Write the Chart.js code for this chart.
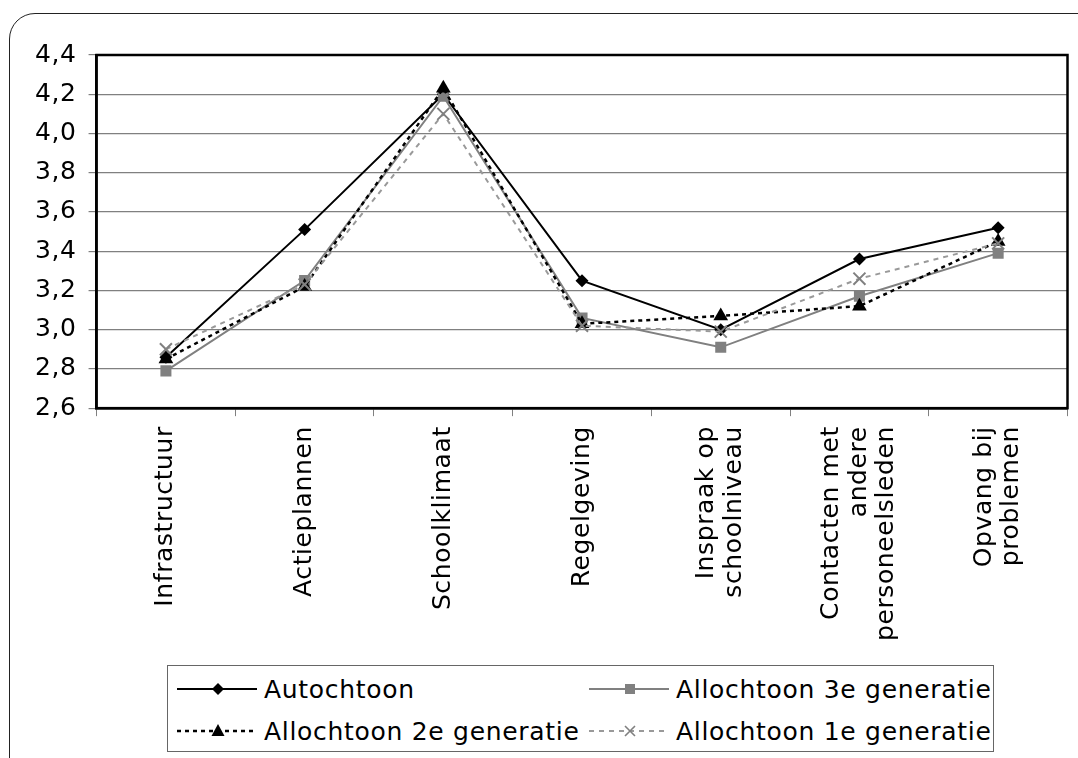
<!DOCTYPE html>
<html><head><meta charset="utf-8">
<script src="https://cdn.jsdelivr.net/npm/chart.js@4.4.1/dist/chart.umd.min.js"></script>
<style>
html,body{margin:0;padding:0;background:#fff;width:1078px;height:758px;overflow:hidden;}
#wrap{position:relative;width:1078px;height:758px;overflow:hidden;}
#frame{position:absolute;left:9px;top:13px;width:1110px;height:800px;border:1.6px solid #222;border-radius:26px;box-sizing:border-box;}
#c{position:absolute;left:0;top:0;}
#legend{position:absolute;left:167px;top:665px;width:827px;height:87px;border:1.5px solid #666;box-sizing:border-box;font-family:'DejaVu Sans';font-size:25px;letter-spacing:0.7px;color:#000;background:#fff}
.item{position:absolute;display:flex;align-items:center;height:30px;white-space:nowrap}
.item svg{margin-right:7px;flex:none}
</style></head>
<body>
<div id="wrap">
<div id="frame"></div>
<canvas id="c" width="1078" height="758"></canvas>
<div id="legend"></div>
</div>
<script>
const categories = ['Infrastructuur', 'Actieplannen', 'Schoolklimaat', 'Regelgeving',
  ['Inspraak op', 'schoolniveau'], ['Contacten met', 'andere', 'personeelsleden'], ['Opvang bij', 'problemen']];
const seriesNames = ['Autochtoon', 'Allochtoon 3e generatie', 'Allochtoon 2e generatie', 'Allochtoon 1e generatie'];
const autochtoon = [2.86, 3.51, 4.20, 3.25, 3.00, 3.36, 3.52];
const allochtoon3 = [2.79, 3.25, 4.19, 3.06, 2.91, 3.17, 3.39];
const allochtoon2 = [2.85, 3.22, 4.23, 3.03, 3.07, 3.12, 3.45];
const allochtoon1 = [2.90, 3.23, 4.10, 3.02, 2.99, 3.26, 3.44];
const yTickLabels = ['2,6', '2,8', '3,0', '3,2', '3,4', '3,6', '3,8', '4,0', '4,2', '4,4'];

Chart.defaults.font.family = 'DejaVu Sans';
Chart.defaults.font.size = 25;
Chart.defaults.color = '#000';

const styles = [
  {color:'#000', width:2, dash:[], marker:'rectRot', r:6.5, mcolor:'#000'},
  {color:'#808080', width:2, dash:[], marker:'rect', r:7.8, mcolor:'#808080'},
  {color:'#000', width:2.5, dash:[4,4], marker:'triangle', r:8.5, mcolor:'#000'},
  {color:'#999', width:2, dash:[5,5], marker:'crossRot', r:8.5, mcolor:'#808080'}
];
const values = [autochtoon, allochtoon3, allochtoon2, allochtoon1];

function ds(i, order){
  const s = styles[i];
  return {label: seriesNames[i], data: values[i], borderColor: s.color, borderWidth: s.width,
    borderDash: s.dash, pointStyle: s.marker, pointRadius: s.r, pointHoverRadius: s.r,
    pointBackgroundColor: s.mcolor, pointBorderColor: s.mcolor,
    pointBorderWidth: s.marker === 'crossRot' ? 2 : 0, tension: 0, fill: false, order: order};
}

const SPACING = '0.6px';
const framePlugin = {
  id: 'frameAndLabels',
  beforeUpdate(chart){ chart.ctx.letterSpacing = SPACING; },
  beforeLayout(chart){ chart.ctx.letterSpacing = SPACING; },
  beforeDraw(chart){
    chart.ctx.letterSpacing = SPACING;
    const sc = chart.scales.x;
    const items = sc.getLabelItems(chart.chartArea);
    if (!items._shifted) {
      items.forEach(it => {
        const n = Array.isArray(it.label) ? it.label.length : 1;
        it.options.translation[0] -= (n - 1) * it.font.lineHeight / 2;
      });
      items._shifted = true;
    }
  },
  beforeDatasetsDraw(chart){
    const {ctx, chartArea: a} = chart;
    ctx.save();
    ctx.strokeStyle = '#000'; ctx.lineWidth = 2.5;
    ctx.strokeRect(a.left, a.top, a.right - a.left, a.bottom - a.top);
    ctx.restore();
  }
};

new Chart(document.getElementById('c'), {
  type: 'line',
  data: { labels: categories, datasets: [ds(3,0), ds(2,1), ds(1,2), ds(0,3)] },
  options: {
    responsive: false, animation: false,
    layout: { padding: {top: 55, left: 23, right: 10, bottom: 107} },
    plugins: { legend: {display: false}, tooltip: {enabled: false} },
    scales: {
      x: {
        offset: true,
        grid: { display: true, drawOnChartArea: false, drawTicks: true, tickLength: 8, color: '#808080', offset: true },
        border: { display: true, color: '#000', width: 2.5 },
        ticks: { autoSkip: false, minRotation: 90, maxRotation: 90, padding: 10, font: {size: 25, lineHeight: 1.1} }
      },
      y: {
        min: 2.6, max: 4.4,
        grid: { color: '#808080', lineWidth: 1.2, tickLength: 8 },
        border: { display: true, color: '#000', width: 2.5 },
        ticks: { stepSize: 0.2, padding: 12, callback: (v, i) => yTickLabels[i] }
      }
    }
  },
  plugins: [framePlugin]
});

// HTML legend
const legendPos = [[9, 8], [421, 8], [9, 50], [421, 50]];
function markerSvg(i){
  const s = styles[i];
  const dash = s.dash.length ? `stroke-dasharray="${s.dash.join(',')}"` : '';
  let m = '';
  if (s.marker === 'rectRot') m = `<polygon points="41,4 47,10 41,16 35,10" fill="${s.mcolor}"/>`;
  else if (s.marker === 'rect') m = `<rect x="36" y="5" width="10" height="10" fill="${s.mcolor}"/>`;
  else if (s.marker === 'triangle') m = `<polygon points="41,3 47.5,15 34.5,15" fill="${s.mcolor}"/>`;
  else m = `<path d="M36,5 L46,15 M46,5 L36,15" stroke="${s.mcolor}" stroke-width="1.6"/>`;
  return `<svg width="80" height="20" viewBox="0 0 80 20"><line x1="0" y1="10" x2="80" y2="10" stroke="${s.color}" stroke-width="${s.width}" ${dash}/>${m}</svg>`;
}
const lg = document.getElementById('legend');
seriesNames.forEach((n, i) => {
  const d = document.createElement('div');
  d.className = 'item';
  d.style.left = legendPos[i][0] + 'px';
  d.style.top = legendPos[i][1] + 'px';
  d.innerHTML = markerSvg(i) + '<span>' + n + '</span>';
  lg.appendChild(d);
});
</script>
</body></html>
